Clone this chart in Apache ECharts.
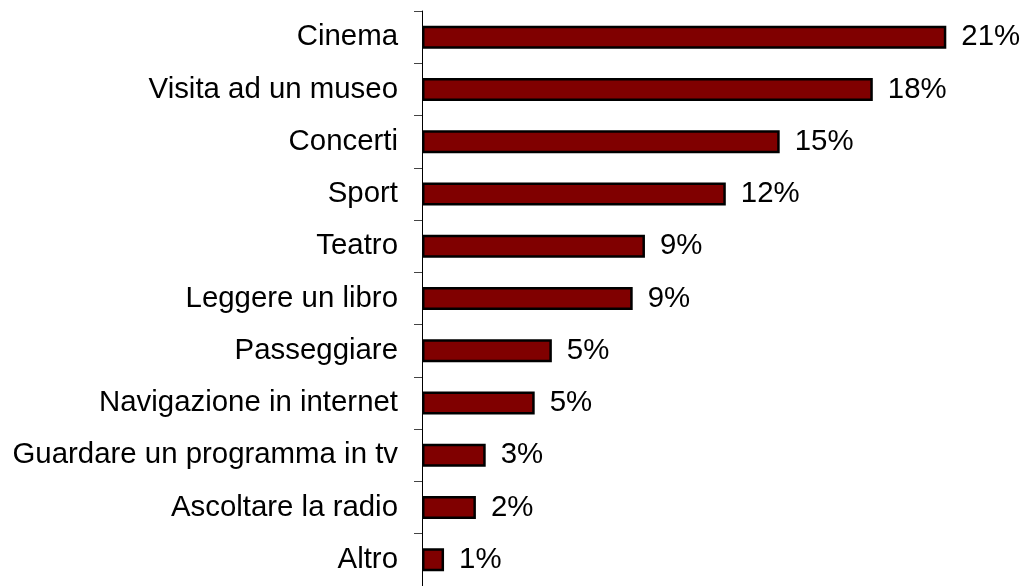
<!DOCTYPE html>
<html>
<head>
<meta charset="utf-8">
<script src="https://cdn.jsdelivr.net/npm/echarts@6/dist/echarts.min.js"></script>
<style>
    html, body {margin: 0; padding: 0; background: #fff;}
    #chart {width: 1025px; height: 586px;}
</style>
</head>
<body>
<div id="chart"></div>
<script>
// categories top to bottom
var categories = [
    'Cinema',
    'Visita ad un museo',
    'Concerti',
    'Sport',
    'Teatro',
    'Leggere un libro',
    'Passeggiare',
    'Navigazione in internet',
    'Guardare un programma in tv',
    'Ascoltare la radio',
    'Altro'
];
// percentages
var values = [21.4, 18.4, 14.6, 12.4, 9.1, 8.6, 5.3, 4.6, 2.6, 2.2, 0.9];

var font = '"Liberation Sans", Arial, sans-serif';

var chart = echarts.init(document.getElementById('chart'));
chart.setOption({
    animation: false,
    grid: {left: 422, top: 11, width: 588, height: 575, containLabel: false},
    xAxis: {
        type: 'value',
        min: 0,
        max: 24,
        show: false,
        splitLine: {show: false}
    },
    yAxis: {
        type: 'category',
        data: categories,
        inverse: true,
        axisLine: {show: true, lineStyle: {color: '#000', width: 1}},
        axisTick: {show: true, length: 8, lineStyle: {color: '#444'}},
        axisLabel: {
            color: '#000',
            fontSize: 29.4,
            fontFamily: font,
            margin: 24
        }
    },
    series: [{
        type: 'bar',
        data: values,
        barWidth: 23,
        itemStyle: {color: '#800000', borderColor: '#000', borderWidth: 2.5},
        label: {
            show: true,
            position: 'right',
            distance: 15,
            color: '#000',
            fontSize: 29.4,
            fontFamily: font,
            formatter: function(p) {
                return Math.round(p.value) + '%';
            }
        }
    }]
});
</script>
</body>
</html>
